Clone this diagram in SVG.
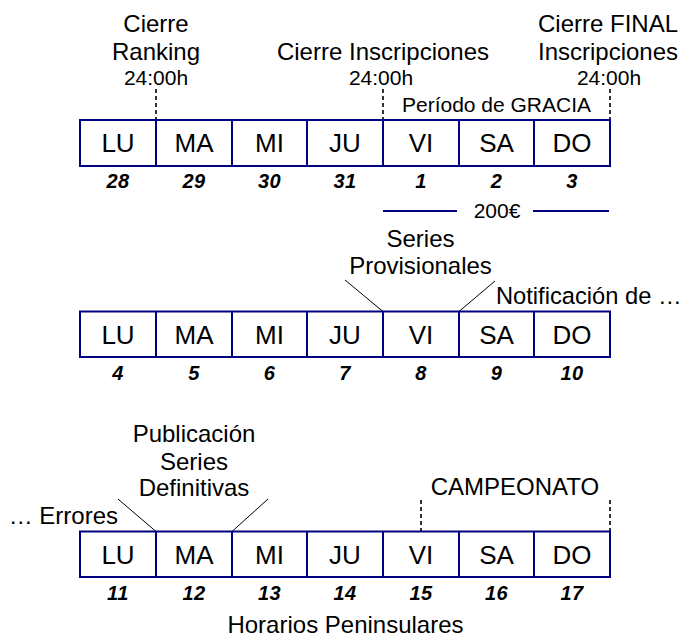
<svg xmlns="http://www.w3.org/2000/svg" width="683" height="637" viewBox="0 0 683 637">
<style>
text{font-family:"Liberation Sans",Arial,sans-serif;fill:#000}
.day{font-size:26px;text-anchor:middle}
.num{font-size:20px;font-weight:bold;font-style:italic;text-anchor:middle;letter-spacing:0.5px}
.lbl{font-size:24px;text-anchor:middle}
.sm{font-size:21px;text-anchor:middle}
.cell{fill:#fff;stroke:#000080;stroke-width:2}
.dash{stroke:#000;stroke-width:1.6;stroke-dasharray:4 3;fill:none}
.thin{stroke:#000;stroke-width:1;fill:none}
.blue{stroke:#000080;stroke-width:2;fill:none}
</style>
<rect width="683" height="637" fill="#fff"/>
<g id="connectors">
<line class="dash" x1="156" y1="89" x2="156" y2="120"/>
<line class="dash" x1="383" y1="89" x2="383" y2="120"/>
<line class="dash" x1="610" y1="89" x2="610" y2="120"/>
<line class="blue" x1="383" y1="211" x2="457" y2="211"/>
<line class="blue" x1="533" y1="211" x2="609" y2="211"/>
<line class="thin" x1="345" y1="280" x2="383" y2="311.5"/>
<line class="thin" x1="495" y1="281" x2="459" y2="311.5"/>
<line class="thin" x1="118" y1="499" x2="156" y2="531.5"/>
<line class="thin" x1="268" y1="499" x2="232" y2="531.5"/>
<line class="dash" x1="421" y1="500" x2="421" y2="531"/>
<line class="dash" x1="610" y1="500" x2="610" y2="531"/>
</g>
<g id="labels-top">
<text class="lbl" x="156" y="32">Cierre</text>
<text class="lbl" x="156" y="60">Ranking</text>
<text class="sm" x="156" y="84.5">24:00h</text>
<text class="lbl" x="383" y="60">Cierre Inscripciones</text>
<text class="sm" x="381" y="84.5">24:00h</text>
<text class="lbl" x="608" y="32">Cierre FINAL</text>
<text class="lbl" x="608" y="60">Inscripciones</text>
<text class="sm" x="609" y="84.5">24:00h</text>
<text class="sm" x="496.5" y="111.5">Período de GRACIA</text>
<text class="sm" x="497" y="218">200€</text>
</g>
<g id="week1">
<rect class="cell" x="80" y="120" width="530" height="46"/>
<path class="blue" d="M156 120V166M232 120V166M307 120V166M383 120V166M459 120V166M534 120V166"/>
<text class="day" x="118" y="152">LU</text>
<text class="day" x="194" y="152">MA</text>
<text class="day" x="269.5" y="152">MI</text>
<text class="day" x="345" y="152">JU</text>
<text class="day" x="421" y="152">VI</text>
<text class="day" x="496.5" y="152">SA</text>
<text class="day" x="572" y="152">DO</text>
<text class="num" x="118" y="187.5">28</text>
<text class="num" x="194" y="187.5">29</text>
<text class="num" x="269.5" y="187.5">30</text>
<text class="num" x="345" y="187.5">31</text>
<text class="num" x="421" y="187.5">1</text>
<text class="num" x="496.5" y="187.5">2</text>
<text class="num" x="572" y="187.5">3</text>
</g>
<g id="labels-mid">
<text class="lbl" x="420.5" y="247">Series</text>
<text class="lbl" x="420.5" y="274">Provisionales</text>
<text class="lbl" x="496" y="304" style="text-anchor:start;font-size:23.7px">Notificación de …</text>
</g>
<g id="week2">
<rect class="cell" x="80" y="311.5" width="530" height="45.5"/>
<path class="blue" d="M156 311.5V357M232 311.5V357M307 311.5V357M383 311.5V357M459 311.5V357M534 311.5V357"/>
<text class="day" x="118" y="344">LU</text>
<text class="day" x="194" y="344">MA</text>
<text class="day" x="269.5" y="344">MI</text>
<text class="day" x="345" y="344">JU</text>
<text class="day" x="421" y="344">VI</text>
<text class="day" x="496.5" y="344">SA</text>
<text class="day" x="572" y="344">DO</text>
<text class="num" x="118" y="379.5">4</text>
<text class="num" x="194" y="379.5">5</text>
<text class="num" x="269.5" y="379.5">6</text>
<text class="num" x="345" y="379.5">7</text>
<text class="num" x="421" y="379.5">8</text>
<text class="num" x="496.5" y="379.5">9</text>
<text class="num" x="572" y="379.5">10</text>
</g>
<g id="labels-bottom">
<text class="lbl" x="194" y="442">Publicación</text>
<text class="lbl" x="194" y="470">Series</text>
<text class="lbl" x="194" y="496">Definitivas</text>
<text class="lbl" x="118" y="523.5" style="text-anchor:end">… Errores</text>
<text class="lbl" x="515" y="495">CAMPEONATO</text>
<text class="lbl" x="345.5" y="633">Horarios Peninsulares</text>
</g>
<g id="week3">
<rect class="cell" x="80" y="531.5" width="530" height="45.5"/>
<path class="blue" d="M156 531.5V577M232 531.5V577M307 531.5V577M383 531.5V577M459 531.5V577M534 531.5V577"/>
<text class="day" x="118" y="564">LU</text>
<text class="day" x="194" y="564">MA</text>
<text class="day" x="269.5" y="564">MI</text>
<text class="day" x="345" y="564">JU</text>
<text class="day" x="421" y="564">VI</text>
<text class="day" x="496.5" y="564">SA</text>
<text class="day" x="572" y="564">DO</text>
<text class="num" x="118" y="599.5">11</text>
<text class="num" x="194" y="599.5">12</text>
<text class="num" x="269.5" y="599.5">13</text>
<text class="num" x="345" y="599.5">14</text>
<text class="num" x="421" y="599.5">15</text>
<text class="num" x="496.5" y="599.5">16</text>
<text class="num" x="572" y="599.5">17</text>
</g>
</svg>
